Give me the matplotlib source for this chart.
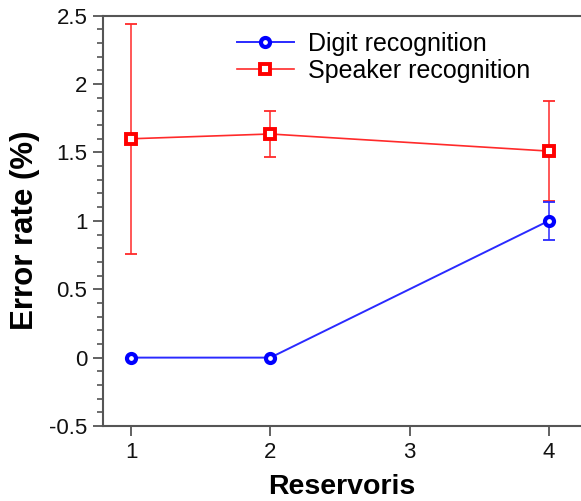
import matplotlib
matplotlib.use("Agg")
import matplotlib.pyplot as plt
from matplotlib.ticker import MultipleLocator
from matplotlib.lines import Line2D

plt.rcParams['font.family'] = ['Liberation Sans', 'DejaVu Sans']

reservoirs = [1, 2, 4]
digit_err = [0.0, 0.0, 1.0]
digit_sd = [0.0, 0.0, 0.14]
speaker_err = [1.60, 1.635, 1.51]
speaker_sd = [0.84, 0.165, 0.365]

x_ticks = [1, 2, 3, 4]
y_ticks = [-0.5, 0, 0.5, 1, 1.5, 2, 2.5]
y_tick_labels = ['-0.5', '0', '0.5', '1', '1.5', '2', '2.5']

fig = plt.figure(figsize=(5.81, 5.01), dpi=100)
ax = fig.add_axes([0.1778, 0.1497, 1 - 0.1778, 0.9687 - 0.1497])

spine_col = '#555555'
red_line = '#ff2a2a'
blue_line = '#2a2aff'

red_style = dict(marker='s', markersize=7, markerfacecolor='white',
                 markeredgecolor='#ff0000', markeredgewidth=2.8)
blue_style = dict(marker='o', markersize=6.5, markerfacecolor='white',
                  markeredgecolor='#0000ff', markeredgewidth=3)

# error bars (only where a spread exists)
sp_idx = [i for i, s in enumerate(speaker_sd) if s > 0]
dg_idx = [i for i, s in enumerate(digit_sd) if s > 0]
ax.errorbar([reservoirs[i] for i in sp_idx], [speaker_err[i] for i in sp_idx],
            yerr=[speaker_sd[i] for i in sp_idx], fmt='none', ecolor=red_line,
            elinewidth=1.1, capsize=4, capthick=1.3, zorder=2)
ax.errorbar([reservoirs[i] for i in dg_idx], [digit_err[i] for i in dg_idx],
            yerr=[digit_sd[i] for i in dg_idx], fmt='none', ecolor=blue_line,
            elinewidth=1.1, capsize=4, capthick=1.3, zorder=2)

ax.plot(reservoirs, speaker_err, color=red_line, lw=1.2, zorder=3, **red_style)
ax.plot(reservoirs, digit_err, color=blue_line, lw=1.4, zorder=4, **blue_style)

ax.set_xlim(0.8, 4.232)
ax.set_ylim(-0.5, 2.5)
ax.set_xticks(x_ticks)
ax.set_yticks(y_ticks)
ax.set_yticklabels(y_tick_labels)
ax.yaxis.set_minor_locator(MultipleLocator(0.1))

for side in ['left', 'bottom', 'top']:
    ax.spines[side].set_color(spine_col)
    ax.spines[side].set_linewidth(1.5)
ax.spines['right'].set_visible(False)

ax.tick_params(axis='both', which='major', direction='out', length=7.5, width=1.3,
               color=spine_col, labelsize=16, labelcolor='#111111', pad=4)
ax.tick_params(axis='y', which='minor', direction='out', length=4.5, width=1.2,
               color=spine_col)

ax.set_xlabel('Reservoris', fontsize=20.5, fontweight='bold', labelpad=8)
ax.set_ylabel('Error rate (%)', fontsize=22.5, fontweight='bold', va='center')
ax.yaxis.set_label_coords(-0.164, 0.478)

handles = [Line2D([], [], color=blue_line, lw=1.4, **blue_style),
           Line2D([], [], color=red_line, lw=1.2, **red_style)]
labels = ['Digit recognition', 'Speaker recognition']
ax.legend(handles, labels, loc='upper left', bbox_to_anchor=(0.245, 1.0),
          frameon=False, fontsize=18, handlelength=2.3, handletextpad=0.55,
          labelspacing=0.12, borderaxespad=0.25)

fig.savefig('out.png', dpi=100)
